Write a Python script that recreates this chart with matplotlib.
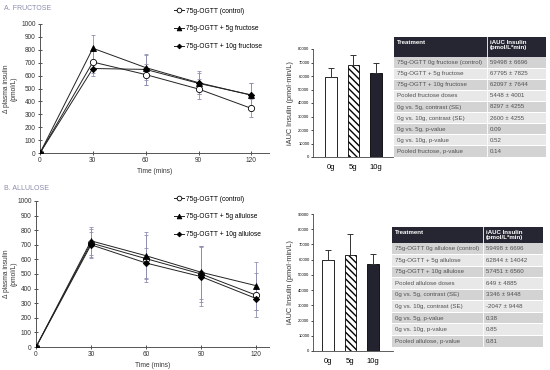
import matplotlib
matplotlib.use("Agg")
import matplotlib.pyplot as plt
from matplotlib.patches import Rectangle

plt.rcParams['font.family'] = ['Liberation Sans', 'DejaVu Sans']

# ---- data ----
time = [0, 30, 60, 90, 120]
legend_fru = ["75g-OGTT (control)", "75g-OGTT + 5g fructose", "75g-OGTT + 10g fructose"]
legend_all = ["75g-OGTT (control)", "75g-OGTT + 5g allulose", "75g-OGTT + 10g allulose"]

fru_ctrl = [0, 705, 608, 496, 346]
fru_5g = [0, 812, 662, 545, 448]
fru_10g = [0, 655, 648, 540, 450]
fru_ctrl_err = [0, 85, 80, 75, 70]
fru_5g_err = [0, 105, 95, 90, 95]
fru_10g_err = [0, 60, 120, 80, 90]

all_ctrl = [0, 712, 605, 500, 355]
all_5g = [0, 727, 625, 512, 420]
all_10g = [0, 700, 575, 482, 332]
all_ctrl_err = [0, 95, 160, 190, 150]
all_5g_err = [0, 95, 160, 180, 165]
all_10g_err = [0, 90, 100, 200, 80]

dose = ["0g", "5g", "10g"]
auc_fru = [59498, 67795, 62097]
auc_fru_err = [6696, 7825, 7644]
auc_all = [59498, 62844, 57451]
auc_all_err = [6696, 14042, 6560]

tab_head = ["Treatment", "iAUC Insulin\n(pmol/L*min)"]
tab_fru_rows = ["75g-OGTT 0g fructose (control)", "75g-OGTT + 5g fructose", "75g-OGTT + 10g fructose",
                "Pooled fructose doses", "0g vs. 5g, contrast (SE)", "0g vs. 10g, contrast (SE)",
                "0g vs. 5g, p-value", "0g vs. 10g, p-value", "Pooled fructose, p-value"]
tab_fru_vals = ["59498 \u00b1 6696", "67795 \u00b1 7825", "62097 \u00b1 7644", "5448 \u00b1 4001",
                "8297 \u00b1 4255", "2600 \u00b1 4255", "0.09", "0.52", "0.14"]
tab_all_rows = ["75g-OGTT 0g allulose (control)", "75g-OGTT + 5g allulose", "75g-OGTT + 10g allulose",
                "Pooled allulose doses", "0g vs. 5g, contrast (SE)", "0g vs. 10g, contrast (SE)",
                "0g vs. 5g, p-value", "0g vs. 10g, p-value", "Pooled allulose, p-value"]
tab_all_vals = ["59498 \u00b1 6696", "62844 \u00b1 14042", "57451 \u00b1 6560", "649 \u00b1 4885",
                "3346 \u00b1 9448", "-2047 \u00b1 9448", "0.38", "0.85", "0.81"]

W, H = 550, 370
fig = plt.figure(figsize=(W / 100, H / 100), dpi=100)
title_col = "#8a8cab"
err_col = "#8e8fb0"


def rect(x0, y0, x1, y1):
    return [x0 / W, 1 - y1 / H, (x1 - x0) / W, (y1 - y0) / H]


def line_panel(r, xmax, ctrl, s5, s10, e0, e5, e10, labels, leg_xy):
    ax = fig.add_axes(r)
    styles = [(ctrl, e0, 'o', 'white'), (s5, e5, '^', 'black'), (s10, e10, 'D', 'black')]
    handles = []
    for vals, err, m, fc in styles:
        ax.errorbar(time, vals, yerr=err, fmt='none', ecolor=err_col, elinewidth=0.6,
                    capsize=1.5, capthick=0.6, zorder=2)
        ms = 3.2 if m == 'D' else 4.5
        h, = ax.plot(time, vals, color='#222222', lw=0.7, marker=m, ms=ms,
                     mfc=fc, mec='black', mew=0.6, zorder=3)
        handles.append(h)
    ax.set_xlim(0, xmax)
    ax.set_ylim(0, 1000)
    ax.set_xticks(time)
    ax.set_yticks(range(0, 1001, 100))
    for s in ['top', 'right']:
        ax.spines[s].set_visible(False)
    for s in ['left', 'bottom']:
        ax.spines[s].set_color('#555555')
        ax.spines[s].set_linewidth(0.7)
    ax.tick_params(direction='inout', length=3, width=0.6, labelsize=4.7, pad=1.5, colors='#333333')
    ax.set_xlabel("Time (mins)", fontsize=4.8, labelpad=3, color='#333333')
    ax.set_ylabel("\u0394 plasma insulin\n(pmol/L)", fontsize=4.8, color='#333333')
    # right side of the rotated label sits ~18 px from the figure's left edge
    ax.yaxis.set_label_coords((18 - r[0] * W) / (r[2] * W), 0.5)
    fig.legend(handles, labels, loc='upper left', bbox_to_anchor=leg_xy, frameon=False,
               fontsize=4.8, handlelength=1.6, labelspacing=1.6, handletextpad=0.2,
               borderaxespad=0, markerscale=0.75)
    return ax


def bar_panel(r, vals, errs, ymax, xlo, xhi):
    ax = fig.add_axes(r)
    x = range(len(dose))
    ax.bar(x[0], vals[0], 0.52, color='white', edgecolor='black', lw=0.6)
    ax.bar(x[1], vals[1], 0.52, color='white', edgecolor='black', lw=0.6, hatch='\\\\\\\\\\')
    ax.bar(x[2], vals[2], 0.52, color='#23232f', edgecolor='black', lw=0.6)
    ax.errorbar(list(x), vals, yerr=[[0] * 3, errs], fmt='none', ecolor='#333333',
                elinewidth=0.7, capsize=2, capthick=0.7)
    ax.set_xlim(xlo, xhi)
    ax.set_ylim(0, ymax)
    ax.set_xticks(list(x))
    ax.set_xticklabels(dose, fontsize=5.5)
    ax.set_yticks(range(0, ymax + 1, 10000))
    ax.tick_params(axis='y', labelsize=3, length=1.5, width=0.5, pad=1)
    ax.tick_params(axis='x', length=0, pad=5)
    for s in ['top', 'right']:
        ax.spines[s].set_visible(False)
    for s in ['left', 'bottom']:
        ax.spines[s].set_linewidth(0.6)
        ax.spines[s].set_color('#444444')
    ax.set_ylabel("iAUC Insulin (pmol\u00b7min/L)", fontsize=5.3, labelpad=3, color='#333333')
    return ax


def table_panel(x0, y0, x1, y1, hdr_h, split, rows, vals):
    ax = fig.add_axes(rect(x0, y0, x1, y1))
    ax.set_xlim(x0, x1)
    ax.set_ylim(y1, y0)
    ax.axis('off')
    ax.add_patch(Rectangle((x0, y0), x1 - x0, hdr_h, color='#262633', lw=0))
    ax.plot([split, split], [y0, y0 + hdr_h], color='white', lw=0.6)
    ax.text(x0 + 3, y0 + 3, tab_head[0], color='white', fontsize=4.4, fontweight='bold', va='top')
    ax.text(split + 3, y0 + 3, tab_head[1], color='white', fontsize=4.4, fontweight='bold',
            va='top', linespacing=1.1)
    rh = (y1 - y0 - hdr_h) / len(rows)
    for i, (lab, v) in enumerate(zip(rows, vals)):
        top = y0 + hdr_h + i * rh
        fc = '#d3d3d3' if i % 2 == 0 else '#e8e8e8'
        ax.add_patch(Rectangle((x0, top + 0.4), x1 - x0, rh - 0.8, color=fc, lw=0))
        ax.plot([split, split], [top, top + rh], color='white', lw=0.6)
        ax.text(x0 + 3, top + rh / 2, lab, fontsize=4.4, color='#505050', va='center')
        ax.text(split + 3, top + rh / 2, v, fontsize=4.4, color='#505050', va='center')


# ---- panel A: fructose ----
fig.text(4 / W, 1 - 9 / H, "A. FRUCTOSE", fontsize=5, color=title_col, va='center')
line_panel(rect(40, 24, 269, 153), 130, fru_ctrl, fru_5g, fru_10g,
           fru_ctrl_err, fru_5g_err, fru_10g_err, legend_fru, (171 / W, 1 - 5 / H))
bar_panel(rect(313, 49, 393, 157), auc_fru, auc_fru_err, 80000, -0.8, 2.77)
table_panel(394, 37, 546, 157, 20, 487, tab_fru_rows, tab_fru_vals)

# ---- panel B: allulose ----
fig.text(4 / W, 1 - 188 / H, "B. ALLULOSE", fontsize=5, color=title_col, va='center')
line_panel(rect(36, 201, 269, 347), 127, all_ctrl, all_5g, all_10g,
           all_ctrl_err, all_5g_err, all_10g_err, legend_all, (171 / W, 1 - 193 / H))
bar_panel(rect(313, 214, 393, 351), auc_all, auc_all_err, 90000, -0.64, 2.86)
table_panel(392, 227, 543, 347, 16, 483, tab_all_rows, tab_all_vals)

fig.savefig("out.png", dpi=100)
